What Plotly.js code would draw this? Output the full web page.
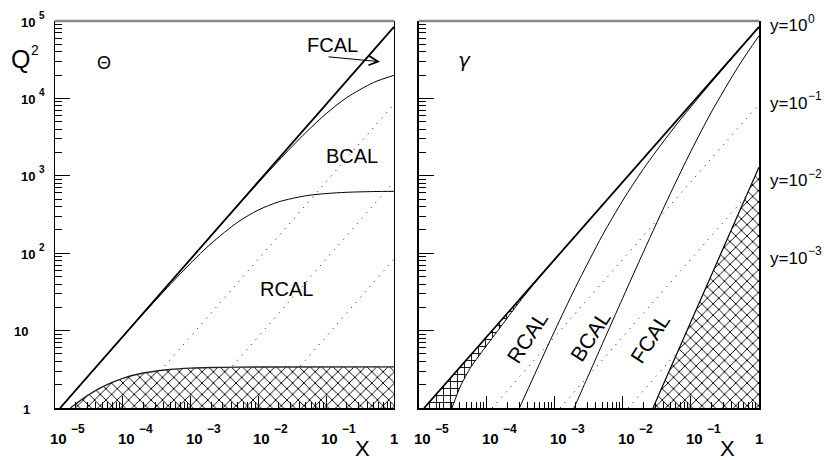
<!DOCTYPE html>
<html><head><meta charset="utf-8">
<script src="https://cdn.plot.ly/plotly-3.0.1.min.js"></script>
<style>html,body{margin:0;padding:0;background:#fff}#chart{width:833px;height:460px}</style>
</head><body><div id="chart"></div>
<script>
// ---------- data ----------
// tick labels: mantissa text and exponent text
const yTickVals = [1, 10, 100, 1000, 10000, 100000];
const yTickBase = ['1', '10', '10', '10', '10', '10'];
const yTickExp = ['', '', '2', '3', '4', '5'];
const xTickVals = [1e-5, 1e-4, 1e-3, 1e-2, 1e-1, 1];
const xTickBase = ['10', '10', '10', '10', '10', '1'];
const xTickExp = ['−5', '−4', '−3', '−2', '−1', ''];
const yLineBase = ['y=10', 'y=10', 'y=10', 'y=10'];
const yLineExp = ['0', '−1', '−2', '−3'];
const yLineQ2AtX1 = [84000, 8400, 840, 84];

// kinematic limit (y = 1)
const kinX = [1.19e-5, 1];
const kinQ2 = [1, 84000];

// lines of constant y (dotted)
const dotY01X = [1.19e-4, 1], dotY01Q2 = [1, 8400];
const dotY001X = [1.19e-3, 1], dotY001Q2 = [1, 840];
const dotY0001X = [1.19e-2, 1], dotY0001Q2 = [1, 84];

// left panel (Theta): calorimeter boundaries
const thFBX = [1.19e-5, 1e-4, 2e-4, 5e-4, 1e-3, 2e-3, 5e-3, 1e-2, 2e-2, 5e-2, 0.1, 0.2, 0.5, 1];
const thFBQ2 = [1, 8.4, 16.8, 41.9, 83.7, 167, 413, 814, 1578, 3616, 6349, 10206, 16059, 19855];
const thBRX = [1.2e-5, 2e-5, 5e-5, 1e-4, 2e-4, 5e-4, 1e-3, 2e-3, 5e-3, 1e-2, 2e-2, 5e-2, 0.1, 0.2, 0.5, 1];
const thBRQ2 = [1.0, 1.68, 4.17, 8.29, 16.4, 39.4, 74.2, 133, 253, 362, 461, 552, 590, 612, 626, 630];
const thHatchX = [1.69e-5, 2e-5, 3e-5, 5e-5, 1e-4, 2e-4, 5e-4, 1e-3, 2e-3, 5e-3, 1e-2, 1];
const thHatchQ2 = [1.0, 1.12, 1.45, 1.88, 2.42, 2.83, 3.15, 3.27, 3.33, 3.37, 3.39, 3.40];

// right panel (gamma): calorimeter boundaries
const gRBX = [3e-4, 5e-4, 1e-3, 2e-3, 5e-3, 1e-2, 2e-2, 5e-2, 0.1, 0.2, 0.5, 1];
const gRBQ2 = [1.0, 2.69, 10.1, 36.1, 171, 485, 1231, 3665, 7828, 16208, 41395, 83389];
const gBFX = [1.9e-3, 2e-3, 3e-3, 5e-3, 1e-2, 2e-2, 5e-2, 0.1, 0.2, 0.5, 1];
const gBFQ2 = [1.0, 1.10, 2.47, 6.81, 26.8, 104, 595, 2083, 6677, 26144, 64454];
const gFwdX = [0.0276, 0.05, 0.1, 0.2, 0.5, 1];
const gFwdQ2 = [1.0, 3.28, 13.1, 52.4, 326, 1293];
const gBckX = [3.05e-5, 4.1e-5, 5.75e-5, 1e-4, 1.42e-4, 2.11e-4, 3.05e-4, 5e-4, 1e-3];
const gBckQ2 = [1.0, 1.94, 3.34, 6.52, 9.8, 15.6, 23.9, 40.9, 83.2];

// ---------- traces ----------
const FONT = 'Liberation Sans, Arial, Helvetica, sans-serif';
const traces = [];
function ln(x, y, xa, ya, opt) {
  traces.push(Object.assign({type: 'scatter', mode: 'lines', x: x, y: y, xaxis: xa, yaxis: ya,
    hoverinfo: 'skip', line: {color: 'black', width: 1}}, opt || {}));
}
const dotted = {line: {color: '#111', width: 1, dash: '1px,6px'}};
const hatchX = {shape: 'x', size: 8, solidity: 0.22, fgcolor: 'black', bgcolor: 'white'};
const hatchPlus = {shape: '+', size: 7, solidity: 0.24, fgcolor: 'black', bgcolor: 'white'};
const qMin = yTickVals[0];
const noLine = {width: 0, color: 'rgba(0,0,0,0)'};

[['x', 'y'], ['x2', 'y2']].forEach(([xa, ya]) => {
  ln(dotY01X, dotY01Q2, xa, ya, dotted);
  ln(dotY001X, dotY001Q2, xa, ya, dotted);
  ln(dotY0001X, dotY0001Q2, xa, ya, dotted);
});
// left panel
ln(thHatchX.concat([thHatchX[thHatchX.length - 1], thHatchX[0]]), thHatchQ2.concat([qMin, qMin]), 'x', 'y',
  {fill: 'toself', fillcolor: 'white', fillpattern: hatchX, line: noLine});
ln(thHatchX, thHatchQ2, 'x', 'y', {line: {color: '#222', width: 1.4, shape: 'spline', smoothing: 0.8}});
ln(thBRX, thBRQ2, 'x', 'y', {line: {color: 'black', width: 1, shape: 'spline', smoothing: 0.8}});
ln(thFBX, thFBQ2, 'x', 'y', {line: {color: 'black', width: 1, shape: 'spline', smoothing: 0.8}});
ln(kinX, kinQ2, 'x', 'y', {line: {color: 'black', width: 1.8}});
// right panel
ln(gFwdX.concat([gFwdX[gFwdX.length - 1], gFwdX[0]]), gFwdQ2.concat([qMin, qMin]), 'x2', 'y2',
  {fill: 'toself', fillcolor: 'white', fillpattern: hatchX, line: noLine});
ln([kinX[0]].concat(gBckX.slice().reverse()), [kinQ2[0]].concat(gBckQ2.slice().reverse()), 'x2', 'y2',
  {fill: 'toself', fillcolor: 'white', fillpattern: hatchPlus, line: noLine});
ln(gFwdX, gFwdQ2, 'x2', 'y2', {line: {color: 'black', width: 1.2, shape: 'spline', smoothing: 0.6}});
ln(gBckX, gBckQ2, 'x2', 'y2', {line: {color: 'black', width: 1, shape: 'spline', smoothing: 0.6}});
ln(gRBX, gRBQ2, 'x2', 'y2', {line: {color: 'black', width: 1, shape: 'spline', smoothing: 0.8}});
ln(gBFX, gBFQ2, 'x2', 'y2', {line: {color: 'black', width: 1, shape: 'spline', smoothing: 0.8}});
ln(kinX, kinQ2, 'x2', 'y2', {line: {color: 'black', width: 1.8}});

// ---------- layout ----------
function xAxis(domain, anchor) {
  return {domain: domain, anchor: anchor, type: 'log', range: [-5, 0], showgrid: false, zeroline: false,
    showline: true, linecolor: 'black', linewidth: 1.5, mirror: false,
    ticks: 'inside', ticklen: 12, tickwidth: 1, tickcolor: 'black', tickmode: 'linear', tick0: 0, dtick: 1,
    showticklabels: false, fixedrange: true,
    minor: {ticks: 'inside', ticklen: 6, tickwidth: 1, tickcolor: 'black', dtick: 'D1', showgrid: false}};
}
function yAxis(anchor) {
  return {domain: [0, 1], anchor: anchor, type: 'log', range: [0, 5], showgrid: false, zeroline: false,
    showline: true, linecolor: 'black', linewidth: 1.5, mirror: true,
    ticks: 'inside', ticklen: 15, tickwidth: 1, tickcolor: 'black', tickmode: 'linear', tick0: 0, dtick: 1,
    showticklabels: false, fixedrange: true,
    minor: {ticks: 'inside', ticklen: 7, tickwidth: 1, tickcolor: 'black', dtick: 'D1', showgrid: false}};
}

const ann = [];
function txt(o) { ann.push(Object.assign({showarrow: false, xanchor: 'center', yanchor: 'middle'}, o)); }
const yBaseFont = {family: FONT, size: 13, color: 'black', weight: 'bold'};
const yExpFont = {family: FONT, size: 10, color: 'black', weight: 'bold'};
const xBaseFont = {family: FONT, size: 15, color: 'black', weight: 'bold'};
const xExpFont = {family: FONT, size: 12, color: 'black', weight: 'bold'};
// y tick labels (left panel)
yTickVals.forEach((v, i) => {
  const hasExp = yTickExp[i] !== '';
  txt({xref: 'paper', yref: 'y', x: 0, y: Math.log10(v), xanchor: 'right',
    xshift: hasExp ? -18 : (yTickBase[i] === '1' ? -23 : -25), yshift: -1,
    text: '<b>' + yTickBase[i] + '</b>', font: yBaseFont});
  if (hasExp) txt({xref: 'paper', yref: 'y', x: 0, y: Math.log10(v), xanchor: 'left', xshift: -18, yshift: 6,
    text: '<b>' + yTickExp[i] + '</b>', font: yExpFont});
});
// x tick labels (both panels)
['x', 'x2'].forEach(xa => {
  xTickVals.forEach((v, i) => {
    const hasExp = xTickExp[i] !== '';
    txt({xref: xa, yref: 'paper', x: Math.log10(v), y: 0, xanchor: hasExp ? 'left' : 'center',
      xshift: hasExp ? -7 : 0, yshift: -30, text: '<b>' + xTickBase[i] + '</b>', font: xBaseFont});
    if (hasExp) txt({xref: xa, yref: 'paper', x: Math.log10(v), y: 0, xanchor: 'left',
      xshift: 14, yshift: -21, text: '<b>' + xTickExp[i] + '</b>', font: xExpFont});
  });
});
// y = const labels at right
yLineBase.forEach((t, i) => {
  const yy = Math.log10(yLineQ2AtX1[i]);
  txt({xref: 'paper', yref: 'y2', x: 1, y: yy, xanchor: 'left', xshift: 9, yshift: 1,
    text: t, font: {family: FONT, size: 17, color: 'black'}});
  txt({xref: 'paper', yref: 'y2', x: 1, y: yy, xanchor: 'left', xshift: 47, yshift: 8,
    text: yLineExp[i], font: {family: FONT, size: 12, color: 'black'}});
});
const bigFont = {family: FONT, size: 20, color: 'black'};
// axis titles
txt({xref: 'paper', yref: 'paper', x: 0, y: 1, xanchor: 'left', xshift: -46, yshift: -38,
  text: 'Q', font: {family: FONT, size: 25, color: 'black'}});
txt({xref: 'paper', yref: 'paper', x: 0, y: 1, xanchor: 'left', xshift: -26, yshift: -29,
  text: '2', font: {family: FONT, size: 14, color: 'black'}});
txt({xref: 'x domain', yref: 'paper', x: (363 - 55) / 339, y: 0, yshift: -40,
  text: 'X', font: {family: FONT, size: 22, color: 'black'}});
txt({xref: 'x2 domain', yref: 'paper', x: (728 - 419) / 340, y: 0, yshift: -40,
  text: 'X', font: {family: FONT, size: 22, color: 'black'}});
// panel symbols
txt({xref: 'x domain', yref: 'y domain', x: 0.1445, y: 0.891, text: 'Θ', font: {family: FONT, size: 18, color: 'black'}});
txt({xref: 'x2 domain', yref: 'y2 domain', x: 0.135, y: 0.899, text: '<i>γ</i>',
  font: {family: 'DejaVu Sans, sans-serif', size: 20, color: 'black'}});
// region labels, left
txt({xref: 'x domain', yref: 'y domain', x: 0.820, y: 0.938, text: 'FCAL', font: bigFont});
txt({xref: 'x domain', yref: 'y domain', x: 0.876, y: 0.651, text: 'BCAL', font: bigFont});
txt({xref: 'x domain', yref: 'y domain', x: 0.684, y: 0.307, text: 'RCAL', font: bigFont});
// arrow under FCAL
ann.push({xref: 'x', yref: 'y', x: -0.206, y: 4.474, ax: -53, ay: -5, text: '', showarrow: true,
  arrowhead: 5, arrowsize: 1.8, arrowwidth: 1, arrowcolor: 'black', standoff: 0});
// region labels, right (rotated)
txt({xref: 'x2 domain', yref: 'y2 domain', x: 0.318, y: 0.183, text: 'RCAL', textangle: -57, font: {family: FONT, size: 21, color: 'black'}});
txt({xref: 'x2 domain', yref: 'y2 domain', x: 0.503, y: 0.185, text: 'BCAL', textangle: -57, font: {family: FONT, size: 21, color: 'black'}});
txt({xref: 'x2 domain', yref: 'y2 domain', x: 0.679, y: 0.180, text: 'FCAL', textangle: -57, font: {family: FONT, size: 21, color: 'black'}});

const layout = {
  width: 833, height: 460, margin: {l: 55, r: 74, t: 21, b: 52},
  paper_bgcolor: 'white', plot_bgcolor: 'white', showlegend: false,
  font: {family: FONT, color: 'black'},
  xaxis: xAxis([0, 0.4815], 'y'), yaxis: yAxis('x'),
  xaxis2: xAxis([0.517, 1], 'y2'), yaxis2: yAxis('x2'),
  shapes: [
    {type: 'line', xref: 'x domain', yref: 'y domain', x0: 0, x1: 1, y0: 1, y1: 1, line: {color: '#888', width: 2.5}},
    {type: 'line', xref: 'x2 domain', yref: 'y2 domain', x0: 0, x1: 1, y0: 1, y1: 1, line: {color: '#888', width: 2.5}}
  ],
  annotations: ann
};
Plotly.newPlot('chart', traces, layout, {staticPlot: true, displayModeBar: false});
</script></body></html>
